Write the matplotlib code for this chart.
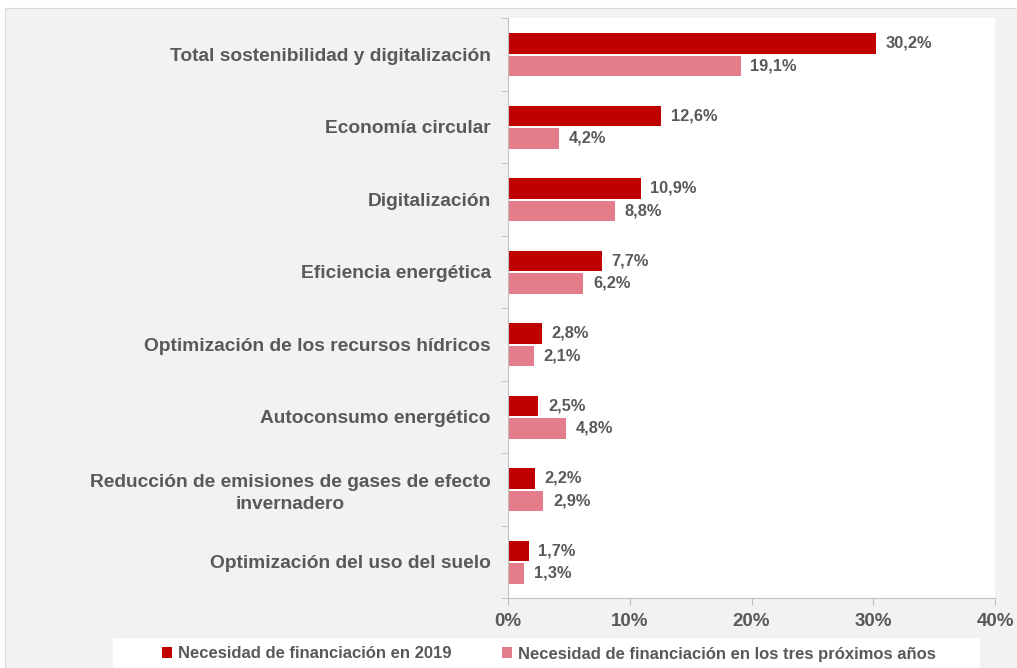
import numpy as np
import matplotlib.pyplot as plt
from matplotlib.patches import Rectangle

# datos
categorias = ['Total sostenibilidad y digitalización', 'Economía circular', 'Digitalización',
              'Eficiencia energética', 'Optimización de los recursos hídricos',
              'Autoconsumo energético', 'Reducción de emisiones de gases de efecto\ninvernadero',
              'Optimización del uso del suelo']
necesidad_2019 = [30.2, 12.6, 10.9, 7.7, 2.8, 2.5, 2.2, 1.7]
necesidad_3_anios = [19.1, 4.2, 8.8, 6.2, 2.1, 4.8, 2.9, 1.3]
series = ['Necesidad de financiación en 2019', 'Necesidad de financiación en los tres próximos años']
ticks_x = [0, 10, 20, 30, 40]

rojo = '#c00000'
rosa = '#e57c8b'
gris_txt = '#595959'
plt.rcParams['font.family'] = ['Liberation Sans', 'DejaVu Sans']

fig = plt.figure(figsize=(10.17, 6.68), dpi=100)
fig.patch.set_facecolor('white')
fig.patches.append(Rectangle((5 / 1017, 0), 1, 1 - 8 / 668, transform=fig.transFigure,
                             facecolor='#f2f2f2', edgecolor='#d9d9d9', lw=0.8, zorder=-2))
fig.patches.append(Rectangle((113 / 1017, 0), 867 / 1017, 30 / 668, transform=fig.transFigure,
                             facecolor='white', edgecolor='none', zorder=-1))
ax = fig.add_axes([508 / 1017, 1 - 598 / 668, 487 / 1017, 580 / 668])
ax.set_facecolor('white')

y = np.arange(len(categorias))
h = 0.28
b1 = ax.barh(y - h / 2 - 0.01, necesidad_2019, height=h, color=rojo, label=series[0])
b2 = ax.barh(y + h / 2 + 0.02, necesidad_3_anios, height=h, color=rosa, label=series[1])

for barras in (b1, b2):
    for b in barras:
        v = b.get_width()
        ax.annotate(f'{v:.1f}%'.replace('.', ','), (v, b.get_y() + b.get_height() / 2),
                    xytext=(7, 0), textcoords='offset points', va='center', ha='left',
                    fontsize=11.8, fontweight='bold', color=gris_txt)

ax.set_xlim(0, 40)
ax.set_ylim(len(categorias) - 0.5, -0.5)
ax.set_xticks(ticks_x)
ax.set_xticklabels([f'{t}%' for t in ticks_x], fontsize=13.5, fontweight='bold', color=gris_txt)
ax.set_yticks(y)
ax.set_yticklabels(categorias, fontsize=13.8, fontweight='bold', color=gris_txt,
                   ha='center', multialignment='center', linespacing=1.35)
ax.set_yticks(np.arange(len(categorias) + 1) - 0.5, minor=True)
ax.tick_params(axis='y', which='major', length=0, pad=0)
ax.tick_params(axis='y', which='minor', length=5, color='#bfbfbf', direction='out')
ax.tick_params(axis='x', length=5, color='#bfbfbf', pad=6)
for lab in ax.get_yticklabels():
    lab.set_horizontalalignment('right')
    lab.set_x(-0.035)
for s in ['top', 'right']:
    ax.spines[s].set_visible(False)
for s in ['left', 'bottom']:
    ax.spines[s].set_color('#bfbfbf')

fig.legend(handles=[b1, b2], labels=series, loc='center', bbox_to_anchor=(549 / 1017, 14 / 668),
           ncol=2, frameon=False, handlelength=0.6, handleheight=0.6,
           handletextpad=0.4, columnspacing=3.0, labelcolor=gris_txt,
           prop={'weight': 'bold', 'size': 12})

fig.savefig('out.png', dpi=100, facecolor=fig.get_facecolor())
